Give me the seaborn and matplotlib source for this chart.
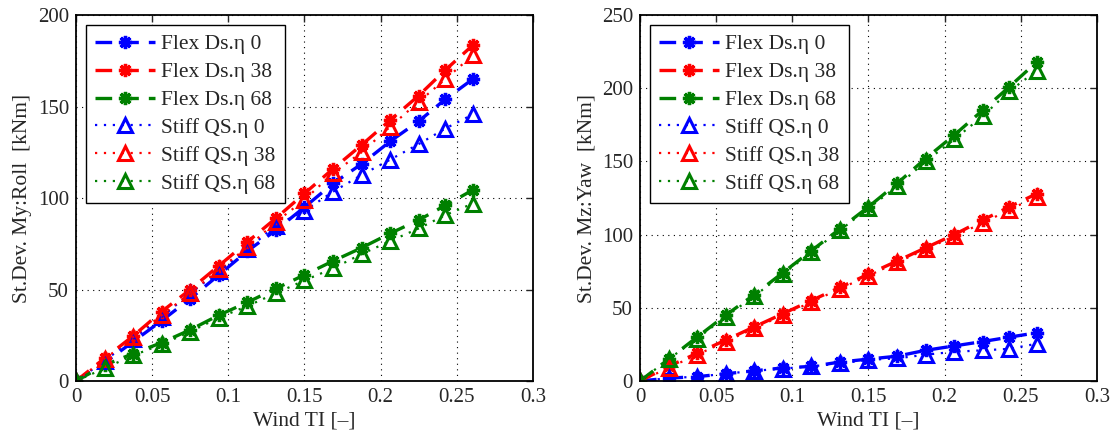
import numpy as np
import pandas as pd
import matplotlib
matplotlib.use("Agg")
import matplotlib.pyplot as plt
import seaborn as sns

# ---- data ----
wind_ti = [0, 0.0188, 0.0375, 0.0563, 0.075, 0.0938, 0.1125, 0.1313, 0.15, 0.1688,
           0.1875, 0.2063, 0.225, 0.2425, 0.2605]

# Left: My:Roll
roll_flex_0 = [0, 10, 21.5, 33, 45, 58, 71, 82.5, 95, 108, 118.6, 131, 142, 154, 165]
roll_flex_38 = [0, 12.5, 24.6, 38, 50, 63, 76, 89, 102.5, 116, 129, 142.6, 156, 170, 183.5]
roll_flex_68 = [0, 8.7, 15, 21, 28, 36, 43, 50.6, 58, 65.6, 72.8, 80.7, 88, 96, 104.4]
roll_stiff_0 = [0, 11, 23, 35, 48, 60, 72, 85, 93, 103.5, 112.6, 121, 129.5, 138, 145.7]
roll_stiff_38 = [0, 12, 24, 36, 48, 61, 73, 87, 99, 113.6, 125, 139, 152.6, 165, 178]
roll_stiff_68 = [0, 7, 14, 20, 27, 34.6, 41, 48, 55, 61.6, 69.4, 76.5, 83.4, 90.7, 97]

# Right: Mz:Yaw
yaw_flex_0 = [0, 2, 3, 5, 7, 9, 10, 13, 15, 17, 21, 24, 27, 30, 33]
yaw_flex_38 = [0, 10, 19, 28, 37, 46, 55, 64, 73, 82, 91, 100, 110, 119, 128]
yaw_flex_68 = [0, 15, 30, 45, 59, 74, 89, 104, 119, 135, 152, 168, 185, 201, 218]
yaw_stiff_0 = [0, 2, 3, 5, 7, 8.5, 10, 12, 14.5, 15.5, 18, 20, 21, 22, 25.5]
yaw_stiff_38 = [0, 9, 18, 27, 36, 45, 54, 63, 72, 81, 90, 99, 108, 117, 126]
yaw_stiff_68 = [0, 15, 29, 44, 58, 73, 88, 103, 118, 133, 150, 165, 181, 198, 212]

labels_flex = ["Flex Ds.η 0", "Flex Ds.η 38", "Flex Ds.η 68"]
labels_stiff = ["Stiff QS.η 0", "Stiff QS.η 38", "Stiff QS.η 68"]
colors = ["#0000ff", "#ff0000", "#008000"]

sns.set_style("white")
plt.rcParams["font.family"] = ["Liberation Serif", "DejaVu Serif"]

fig = plt.figure(figsize=(11.12, 4.36), dpi=100)
axL = fig.add_axes([0.0683, 0.126, 0.411, 0.8395])
axR = fig.add_axes([0.5755, 0.126, 0.411, 0.8395])

asterisk = (8, 2, 0)

def draw(ax, flex, stiff, ymax, ystep, ylabel):
    for vals, lab, c in zip(flex, labels_flex, colors):
        sns.lineplot(x=wind_ti, y=vals, ax=ax, color=c, label=lab, linestyle=(0, (5, 3)),
                     linewidth=2.4, marker=asterisk, markersize=9.5, markeredgewidth=2.4,
                     markeredgecolor=c, markerfacecolor=c, estimator=None, sort=False)
    for vals, lab, c in zip(stiff, labels_stiff, colors):
        sns.lineplot(x=wind_ti, y=vals, ax=ax, color=c, label=lab, linestyle=(0, (1, 3)),
                     linewidth=1.6, marker="^", markersize=10, markeredgewidth=2.2,
                     markeredgecolor=c, markerfacecolor="none", estimator=None, sort=False)
    ax.set_xlim(0, 0.3)
    ax.set_ylim(0, ymax)
    ax.set_xticks([0, 0.05, 0.1, 0.15, 0.2, 0.25, 0.3])
    ax.set_xticklabels(["0", "0.05", "0.1", "0.15", "0.2", "0.25", "0.3"])
    ax.set_yticks(np.arange(0, ymax + 1, ystep))
    ax.tick_params(direction="in", top=True, right=True, labelsize=15, length=5,
                   width=1.0, pad=5)
    ax.grid(True, color="black", linestyle=(0, (1, 4)), linewidth=0.8)
    for s in ax.spines.values():
        s.set_color("black")
        s.set_linewidth(1.3)
    ax.set_xlabel("Wind TI [–]", fontsize=15.5, labelpad=3)
    ax.set_ylabel(ylabel, fontsize=15.5, labelpad=4)
    leg = ax.legend(loc="upper left", fontsize=15.5, handlelength=2.75, labelspacing=0.36,
                    borderaxespad=0.45, fancybox=False, framealpha=1, edgecolor="black",
                    handletextpad=0.3, borderpad=0.45)
    leg.get_frame().set_linewidth(1.0)

draw(axL, [roll_flex_0, roll_flex_38, roll_flex_68],
     [roll_stiff_0, roll_stiff_38, roll_stiff_68], 200, 50, "St.Dev. My:Roll  [kNm]")
draw(axR, [yaw_flex_0, yaw_flex_38, yaw_flex_68],
     [yaw_stiff_0, yaw_stiff_38, yaw_stiff_68], 250, 50, "St.Dev. Mz:Yaw  [kNm]")

fig.savefig("out.png", dpi=100)
